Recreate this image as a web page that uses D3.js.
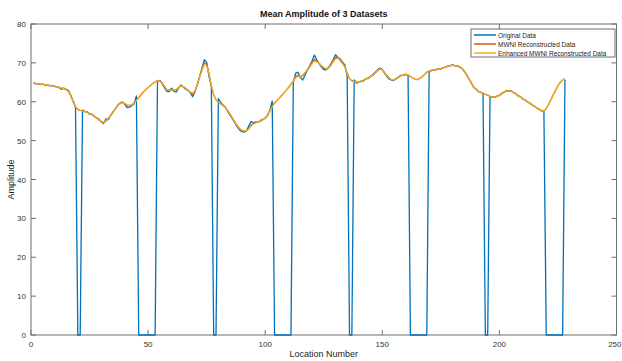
<!DOCTYPE html>
<html><head><meta charset="utf-8">
<script src="https://cdn.jsdelivr.net/npm/d3@7"></script>
<style>body{margin:0;background:#fff}svg{display:block}text{font-family:"Liberation Sans",Arial,sans-serif}</style>
</head><body>
<script>
const title = "Mean Amplitude of 3 Datasets";
const xLabel = "Location Number";
const yLabel = "Amplitude";
const seriesNames = ["Original Data","MWNI Reconstructed Data","Enhanced MWNI Reconstructed Data"];
const xTicks = [0,50,100,150,200,250];
const yTicks = [0,10,20,30,40,50,60,70,80];
const locations = d3.range(1, 229);
const enhanced = [
64.8,64.7,64.6,64.5,64.5,64.4,64.3,64.2,64.1,64.0,
63.8,63.7,63.5,63.4,63.1,62.6,61.5,60.0,58.8,58.1,
57.8,57.6,57.5,57.3,57.0,56.7,56.3,55.8,55.3,55.0,
54.7,55.0,55.7,56.5,57.3,58.2,59.0,59.5,59.8,59.6,
59.2,59.1,59.2,59.6,60.3,61.0,61.8,62.5,63.1,63.7,
64.2,64.7,65.1,65.4,65.3,64.8,64.0,63.2,63.0,63.0,
63.0,63.2,63.6,64.0,63.9,63.5,63.0,62.5,62.2,62.8,
64.5,66.3,68.0,69.6,69.3,67.2,64.2,61.8,60.5,59.9,
59.5,59.0,58.5,57.7,56.8,55.8,54.8,53.9,53.2,52.7,
52.5,52.5,53.0,53.8,54.3,54.6,54.8,55.0,55.4,55.8,
56.6,57.6,58.7,59.6,60.3,60.9,61.6,62.3,63.0,63.7,
64.5,65.3,66.2,66.5,66.5,66.9,67.5,68.2,68.9,69.8,
70.4,70.3,69.9,69.3,68.8,68.5,68.7,69.3,70.2,71.0,
71.2,70.6,69.8,68.9,67.2,65.9,65.4,65.2,65.1,65.0,
65.3,65.6,65.9,66.2,66.5,66.8,67.4,68.0,68.4,68.2,
67.5,66.8,66.1,65.7,65.7,65.9,66.3,66.7,66.9,67.0,
66.9,66.5,66.1,65.8,65.7,66.0,66.4,67.0,67.6,67.9,
68.1,68.2,68.3,68.4,68.5,68.7,68.9,69.1,69.3,69.3,
69.3,69.2,69.0,68.6,67.9,67.0,65.9,64.8,63.8,63.2,
62.7,62.4,62.2,61.9,61.7,61.4,61.2,61.2,61.4,61.7,
62.1,62.5,62.8,62.8,62.7,62.4,62.0,61.6,61.2,60.8,
60.4,60.0,59.6,59.2,58.8,58.4,58.0,57.7,57.6,58.3,
59.3,60.5,61.8,63.0,64.1,65.0,65.6,65.9];
const mwni = [
64.8,64.7,64.6,64.5,64.5,64.4,64.3,64.2,64.1,64.0,
63.8,63.7,63.5,63.4,63.1,62.7,61.6,60.0,58.7,58.0,
57.8,57.7,57.5,57.3,57.0,56.7,56.3,55.8,55.3,54.9,
54.6,55.0,55.7,56.5,57.3,58.2,59.0,59.6,59.9,59.5,
59.0,59.0,59.2,59.7,60.5,61.1,61.8,62.5,63.1,63.7,
64.2,64.7,65.1,65.4,65.4,64.8,63.9,63.1,63.0,63.1,
63.0,63.1,63.6,64.1,63.9,63.5,63.0,62.4,62.0,62.7,
64.5,66.4,68.3,70.0,69.7,67.3,64.1,61.7,60.5,59.9,
59.5,59.0,58.5,57.7,56.8,55.8,54.8,53.9,53.1,52.6,
52.4,52.5,53.1,54.0,54.4,54.6,54.8,55.0,55.4,55.8,
56.6,57.7,58.9,59.7,60.3,60.9,61.6,62.3,63.0,63.7,
64.5,65.3,66.4,66.8,66.4,66.7,67.4,68.2,69.0,70.1,
70.9,70.5,69.9,69.2,68.7,68.4,68.7,69.4,70.5,71.4,
71.4,70.8,69.9,69.1,67.3,65.9,65.4,65.3,65.1,65.0,
65.3,65.5,65.9,66.2,66.5,66.8,67.4,68.0,68.5,68.3,
67.5,66.8,66.0,65.6,65.6,65.9,66.3,66.7,66.9,67.0,
66.9,66.5,66.1,65.8,65.7,66.0,66.4,67.0,67.6,67.9,
68.1,68.2,68.3,68.4,68.5,68.7,68.9,69.1,69.3,69.4,
69.3,69.2,69.0,68.6,67.9,67.0,65.9,64.8,63.8,63.2,
62.7,62.4,62.2,61.9,61.7,61.4,61.2,61.2,61.4,61.7,
62.1,62.5,62.8,62.8,62.7,62.4,62.0,61.6,61.2,60.8,
60.4,60.0,59.6,59.2,58.8,58.4,58.0,57.7,57.6,58.3,
59.3,60.5,61.8,63.0,64.1,65.0,65.6,65.9];
const original = [
64.8,64.6,64.6,64.4,64.5,64.3,64.3,64.1,64.2,63.9,
63.9,63.6,63.2,63.5,63.2,62.9,61.6,60.2,58.6,0,
0,57.9,57.4,57.4,56.8,56.8,56.2,55.9,55.5,54.8,
54.4,55.6,55.4,56.4,57.4,58.1,59.1,59.6,59.9,59.4,
58.5,58.6,59.0,59.4,61.5,0,0,0,0,0,
0,0,0,65.2,65.5,64.6,63.6,62.7,62.6,63.5,
62.7,62.5,63.5,64.3,63.8,63.3,62.9,62.4,61.3,62.6,
64.3,66.5,68.6,70.8,70.2,66.5,63.8,0,0,60.8,
59.8,59.2,58.6,57.5,56.5,55.6,54.6,53.6,52.8,52.3,
52.2,52.5,53.8,54.9,54.6,54.8,54.7,55.2,55.5,55.7,
56.5,57.8,60.2,0,0,0,0,0,0,0,
0,65.0,67.3,67.6,66.2,65.6,66.8,68.2,69.2,70.5,
72.0,70.8,69.8,69.0,68.3,68.2,68.8,69.6,70.8,72.1,
71.4,71.0,70.2,69.5,66.5,0,0,65.6,64.8,65.0,
65.3,65.4,65.9,66.0,66.5,67.0,67.6,68.2,68.7,68.3,
67.3,66.5,65.8,65.6,65.6,66.0,66.4,66.8,66.8,67.1,
66.8,0,0,0,0,0,0,0,0,67.8,
68.0,68.2,68.2,68.5,68.4,68.8,68.9,69.2,69.3,69.5,
69.2,69.3,68.9,68.6,67.8,67.0,65.8,64.9,63.7,63.3,
62.6,62.5,62.1,0,0,61.3,61.2,61.1,61.5,61.6,
62.2,62.4,62.9,62.7,62.8,62.3,62.1,61.5,61.3,60.7,
60.5,59.9,59.7,59.1,58.9,58.3,58.1,57.6,57.7,0,
0,0,0,0,0,0,0,65.6];

const W = 622, H = 361;
const m = {left: 31, right: 5.5, top: 24, bottom: 26};
const svg = d3.select("body").append("svg").attr("width", W).attr("height", H);
const x = d3.scaleLinear().domain([0, 250]).range([m.left, W - m.right]);
const y = d3.scaleLinear().domain([0, 80]).range([H - m.bottom, m.top]);
const axisCol = "#6e6e6e", txtCol = "#333";

svg.append("rect").attr("x", x(0)).attr("y", y(80)).attr("width", x(250) - x(0)).attr("height", y(0) - y(80))
  .attr("fill", "none").attr("stroke", axisCol).attr("stroke-width", 1);

const tl = 5;
const gx = svg.append("g");
xTicks.forEach(t => {
  gx.append("line").attr("x1", x(t)).attr("x2", x(t)).attr("y1", y(0)).attr("y2", y(0) - tl).attr("stroke", axisCol);
  gx.append("line").attr("x1", x(t)).attr("x2", x(t)).attr("y1", y(80)).attr("y2", y(80) + tl).attr("stroke", axisCol);
  gx.append("text").attr("x", x(t)).attr("y", y(0) + 12).attr("text-anchor", t === 250 ? "end" : "middle")
    .attr("dx", t === 250 ? 5 : 0)
    .attr("font-size", 8).attr("fill", txtCol).text(t);
});
const gy = svg.append("g");
yTicks.forEach(t => {
  gy.append("line").attr("x1", x(0)).attr("x2", x(0) + tl).attr("y1", y(t)).attr("y2", y(t)).attr("stroke", axisCol);
  gy.append("line").attr("x1", x(250)).attr("x2", x(250) - tl).attr("y1", y(t)).attr("y2", y(t)).attr("stroke", axisCol);
  gy.append("text").attr("x", x(0) - 5).attr("y", y(t) + 3).attr("text-anchor", "end")
    .attr("font-size", 8).attr("fill", txtCol).text(t);
});

svg.append("text").attr("x", (x(0) + x(250)) / 2).attr("y", 17).attr("text-anchor", "middle")
  .attr("font-size", 9).attr("font-weight", "bold").attr("fill", "#111").text(title);
svg.append("text").attr("x", (x(0) + x(250)) / 2).attr("y", 357).attr("text-anchor", "middle")
  .attr("font-size", 9).attr("fill", "#222").text(xLabel);
svg.append("text").attr("transform", `translate(14,${(y(0) + y(80)) / 2}) rotate(-90)`).attr("text-anchor", "middle")
  .attr("font-size", 9).attr("fill", "#222").text(yLabel);

const colors = ["#0072BD", "#D95319", "#EDB120"];
const data = [original, mwni, enhanced];
const line = d3.line().x((d, i) => x(locations[i])).y(d => y(d));
data.forEach((s, k) => {
  svg.append("path").datum(s).attr("d", line).attr("fill", "none")
    .attr("stroke", colors[k]).attr("stroke-width", 1.3).attr("stroke-linejoin", "round");
});

const lg = svg.append("g");
lg.append("rect").attr("x", 471).attr("y", 29).attr("width", 144).attr("height", 28)
  .attr("fill", "#fff").attr("stroke", axisCol).attr("stroke-width", 1);
seriesNames.forEach((n, i) => {
  const yy = 35 + i * 9;
  lg.append("line").attr("x1", 474).attr("x2", 496).attr("y1", yy).attr("y2", yy)
    .attr("stroke", colors[i]).attr("stroke-width", 1.5);
  lg.append("text").attr("x", 498).attr("y", yy + 2.5).attr("font-size", 6.5).attr("fill", "#222").text(n);
});
</script>
</body></html>
